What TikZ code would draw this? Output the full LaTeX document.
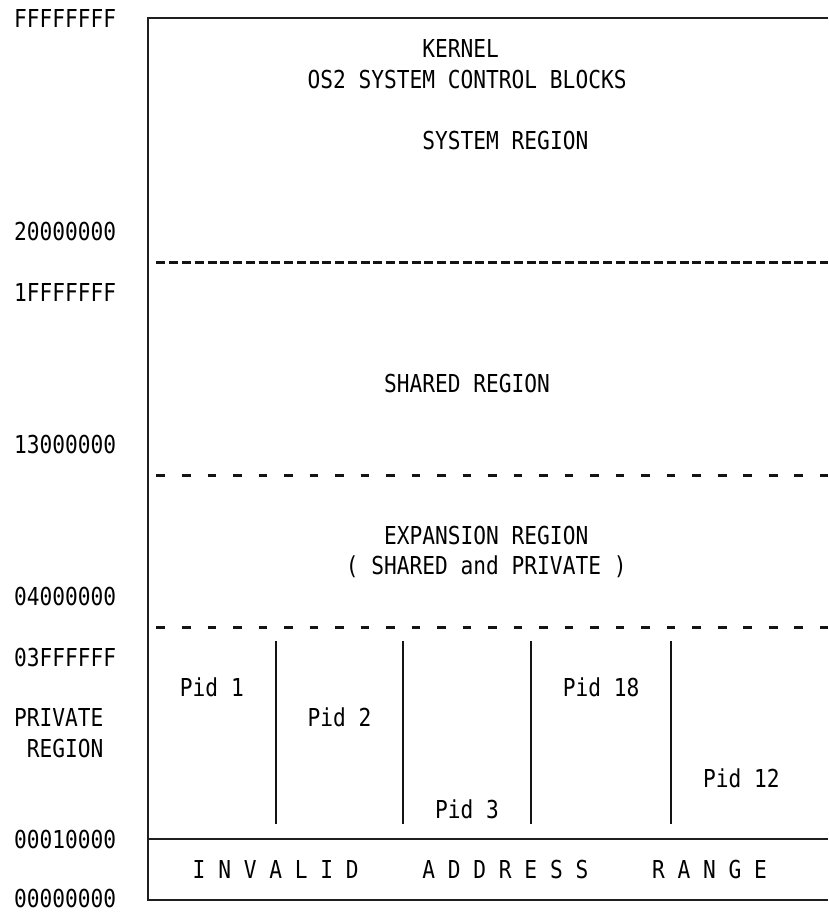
\documentclass[tikz,border=0pt]{standalone}
\usepackage{fontspec}
\newfontfamily\memmono[FakeStretch=0.858]{DejaVu Sans Mono}
\newcommand\gx[1]{{14.1+12.76*(#1)}}
\newcommand\gy[1]{{18+30.41*(#1)}}
\newcommand\gb[1]{{18+30.41*(#1)+9.5}}
\begin{document}
\begin{tikzpicture}[x=1pt,y=-1pt,
  lbl/.style={anchor=base west, inner sep=0pt, outer sep=0pt, text=black,
              font=\memmono\fontsize{24.7}{30}\selectfont},
  boxline/.style={line width=1.8pt, draw=black!88},
  dense/.style={line width=2.4pt, draw=black!92, dash pattern=on 9pt off 3.76pt},
  sparse/.style={line width=2.4pt, draw=black!92, dash pattern=on 8.6pt off 16.92pt},
  sep/.style={line width=2pt, draw=black!92}]
\useasboundingbox (0,0) rectangle (828,912);
\fill[white] (0,0) rectangle (828,912);
% coordinates for box
\coordinate (tl) at ({14.1+12.76*10.5},{18});
\coordinate (tr) at (828,18);
\coordinate (bl) at ({14.1+12.76*10.5},{18+30.41*29});
\coordinate (br) at (828,{18+30.41*29});
\coordinate (ml) at ({14.1+12.76*10.5},{18+30.41*27});
\coordinate (mr) at (828,{18+30.41*27});
% box outline
\draw[boxline] (tr) -- (tl) -- (bl) -- (br);
\draw[boxline] (ml) -- (mr);
% dashed separators
\draw[dense]  ({14.1+12.76*11+2},{18+30.41*8+1.2}) -- (828,{18+30.41*8+1.2});
\draw[sparse] ({14.1+12.76*11+2},{18+30.41*15+1.2}) -- (828,{18+30.41*15+1.2});
\draw[sparse] ({14.1+12.76*11+2},{18+30.41*20+1.2}) -- (828,{18+30.41*20+1.2});
% private region separators
\foreach \c in {20,30,40,51}{
  \draw[sep] ({14.1+12.76*(\c+0.5)},{18+30.41*20.5}) -- ({14.1+12.76*(\c+0.5)},{18+30.41*26.5});
}
% address labels
\node[lbl] (a0) at (\gx{0},\gb{0}) {FFFFFFFF};
\node[lbl] (a1) at (\gx{0},\gb{7}) {20000000};
\node[lbl] (a2) at (\gx{0},\gb{9}) {1FFFFFFF};
\node[lbl] (a3) at (\gx{0},\gb{14}) {13000000};
\node[lbl] (a4) at (\gx{0},\gb{19}) {04000000};
\node[lbl] (a5) at (\gx{0},\gb{21}) {03FFFFFF};
\node[lbl] (p1) at (\gx{0},\gb{23}) {PRIVATE};
\node[lbl] (p2) at (\gx{1},\gb{24}) {REGION};
\node[lbl] (a6) at (\gx{0},\gb{27}) {00010000};
\node[lbl, text depth=0pt] (a7) at (\gx{0},{18+30.41*29+8}) {00000000};
% region texts
\node[lbl] (k1) at (\gx{32},\gb{1}) {KERNEL};
\node[lbl] (k2) at (\gx{23},\gb{2}) {OS2 SYSTEM CONTROL BLOCKS};
\node[lbl] (k3) at (\gx{32},\gb{4}) {SYSTEM REGION};
\node[lbl] (s1) at (\gx{29},\gb{12}) {SHARED REGION};
\node[lbl] (e1) at (\gx{29},\gb{17}) {EXPANSION REGION};
\node[lbl] (e2) at (\gx{26},\gb{18}) {( SHARED and PRIVATE )};
% pids
\node[lbl] (pid1)  at (\gx{13},\gb{22}) {Pid 1};
\node[lbl] (pid2)  at (\gx{23},\gb{23}) {Pid 2};
\node[lbl] (pid3)  at (\gx{33},\gb{26}) {Pid 3};
\node[lbl] (pid18) at (\gx{43},\gb{22}) {Pid 18};
\node[lbl] (pid12) at (\gx{54},\gb{25}) {Pid 12};
% invalid range
\node[lbl] (i1) at (\gx{14},\gb{28}) {I N V A L I D};
\node[lbl] (i2) at (\gx{32},\gb{28}) {A D D R E S S};
\node[lbl] (i3) at (\gx{50},\gb{28}) {R A N G E};
\end{tikzpicture}
\end{document}
